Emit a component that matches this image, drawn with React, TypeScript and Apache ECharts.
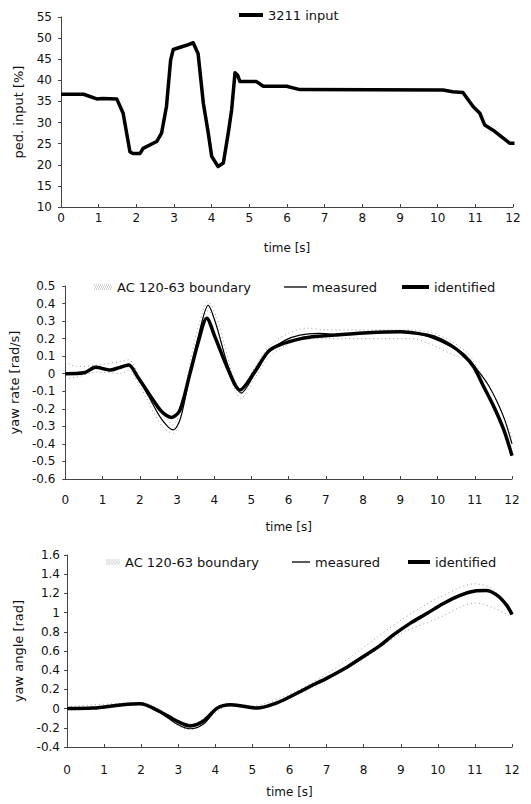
import React, { useEffect, useRef } from "react";
import * as echarts from "echarts";

// ---- Panel 1: pedal input ----
const pedT = [0, 0.6, 0.95, 1.1, 1.48, 1.65, 1.83, 1.9, 2.1, 2.18, 2.54, 2.67, 2.8, 2.91, 2.98, 3.33, 3.51, 3.64, 3.78, 3.91, 4.0, 4.17, 4.31, 4.44, 4.53, 4.62, 4.69, 4.75, 5.19, 5.37, 5.99, 6.34, 10.14, 10.4, 10.67, 10.94, 11.12, 11.25, 11.47, 11.74, 11.91, 12.04];
const pedV = [36.7, 36.7, 35.6, 35.7, 35.6, 32.2, 23.1, 22.7, 22.7, 23.9, 25.5, 27.5, 33.8, 44.8, 47.3, 48.3, 48.9, 46.3, 34.5, 27.5, 22.0, 19.6, 20.4, 27.5, 33.0, 41.8, 41.2, 39.7, 39.7, 38.6, 38.6, 37.8, 37.7, 37.3, 37.1, 33.8, 32.2, 29.4, 28.2, 26.3, 25.1, 25.1];

// ---- Panel 2: yaw rate ----
const rateIdT = [0, 0.5, 0.81, 1.21, 1.45, 1.7, 1.95, 2.24, 2.59, 2.86, 3.08, 3.35, 3.57, 3.8, 4.02, 4.38, 4.69, 5.09, 5.45, 5.76, 6.33, 6.78, 7.23, 8.12, 9.01, 9.46, 9.9, 10.35, 10.7, 10.97, 11.24, 11.51, 11.78, 12.0];
const rateId = [0, 0.005, 0.037, 0.021, 0.035, 0.05, -0.02, -0.112, -0.216, -0.249, -0.207, 0.002, 0.18, 0.316, 0.21, 0.021, -0.093, 0.012, 0.126, 0.164, 0.2, 0.214, 0.22, 0.233, 0.239, 0.23, 0.21, 0.163, 0.106, 0.04, -0.074, -0.187, -0.32, -0.467];
const rateMeasT = [0, 0.5, 0.81, 1.21, 1.45, 1.7, 1.95, 2.24, 2.59, 2.9, 3.1, 3.35, 3.57, 3.84, 4.05, 4.38, 4.73, 5.09, 5.45, 5.9, 6.3, 6.8, 7.3, 8.1, 9.0, 9.5, 9.9, 10.35, 10.75, 11.0, 11.35, 11.6, 11.8, 12.0];
const rateMeas = [0, 0.005, 0.037, 0.021, 0.035, 0.05, -0.02, -0.13, -0.26, -0.32, -0.25, 0.0, 0.21, 0.39, 0.28, 0.04, -0.11, 0.0, 0.12, 0.19, 0.22, 0.23, 0.225, 0.232, 0.238, 0.225, 0.2, 0.155, 0.1, 0.04, -0.06, -0.16, -0.26, -0.4];
const rateBndT = [0, 0.3, 0.85, 1.5, 1.7, 2.0, 2.6, 2.9, 3.1, 3.55, 3.84, 4.05, 4.73, 5.1, 5.5, 6.0, 6.5, 7.0, 7.5, 8.5, 9.3, 9.9, 10.4, 10.8, 11.0, 11.5, 12.0];
const rateUpper = [0.07, 0.04, 0.05, 0.07, 0.08, -0.02, -0.22, -0.29, -0.19, 0.25, 0.41, 0.33, -0.09, 0.04, 0.16, 0.23, 0.26, 0.25, 0.25, 0.25, 0.25, 0.23, 0.18, 0.12, 0.06, -0.12, -0.36];
const rateLower = [-0.03, -0.02, 0.01, 0.0, 0.02, -0.07, -0.3, -0.34, -0.25, 0.19, 0.36, 0.29, -0.14, -0.02, 0.1, 0.17, 0.2, 0.2, 0.2, 0.2, 0.2, 0.16, 0.11, 0.08, 0.02, -0.2, -0.44];

// ---- Panel 3: yaw angle ----
const angT = [0, 0.7, 1.5, 1.97, 2.5, 2.96, 3.32, 3.68, 4.05, 4.4, 4.75, 5.12, 5.66, 6.2, 6.6, 7.0, 7.5, 7.9, 8.4, 8.8, 9.25, 9.7, 10.15, 10.6, 11.0, 11.3, 11.6, 11.85, 12.0];
const angId = [0, 0.005, 0.04, 0.05, -0.03, -0.13, -0.18, -0.13, 0.005, 0.04, 0.025, 0.005, 0.06, 0.16, 0.24, 0.315, 0.42, 0.52, 0.645, 0.767, 0.888, 0.99, 1.095, 1.18, 1.225, 1.23, 1.18, 1.08, 0.98];
const angMeas = [0, 0.005, 0.04, 0.05, -0.04, -0.16, -0.21, -0.16, -0.005, 0.04, 0.025, 0.005, 0.06, 0.16, 0.24, 0.315, 0.42, 0.52, 0.645, 0.767, 0.888, 0.99, 1.095, 1.18, 1.225, 1.23, 1.18, 1.08, 0.98];
const angBndT = [0, 2, 3.32, 4.4, 5, 6, 7, 8, 9, 10, 11, 11.5, 12];
const angUpper = [0.02, 0.06, -0.16, 0.05, 0.03, 0.15, 0.36, 0.64, 0.92, 1.15, 1.3, 1.24, 1.0];
const angLower = [-0.02, 0.04, -0.22, 0.03, 0.0, 0.11, 0.3, 0.52, 0.78, 0.94, 1.1, 1.05, 0.95];

const xTicks = [0, 12, 1];
const NAME_PED = "3211 input";
const NAME_BND = "AC 120-63 boundary";
const NAME_MEAS = "measured";
const NAME_ID = "identified";

const zip = (t: number[], v: number[]) => t.map((x, i) => [x, v[i]]);

const FONT = "DejaVu Sans";
const axisCol = "#444";

// dotted legend swatch for the boundary
function dotsIcon(): string {
  let d = "";
  for (let r = 0; r < 3; r++) {
    for (let c = 0; c < 9; c++) {
      const x = c * 2 + (r % 2);
      const y = r * 2;
      d += `M${x},${y}h1v1h-1z`;
    }
  }
  return "path://" + d;
}

function xAxis(gridIndex: number, labelMargin: number, nameGap: number) {
  return {
    type: "value",
    gridIndex,
    min: xTicks[0],
    max: xTicks[1],
    interval: xTicks[2],
    name: "time [s]",
    nameLocation: "middle",
    nameGap,
    nameTextStyle: { fontFamily: FONT, fontSize: 12, color: "#111" },
    axisLine: { onZero: false, lineStyle: { color: axisCol, width: 1 } },
    axisTick: { show: true, inside: true, length: 3, lineStyle: { color: axisCol } },
    axisLabel: { fontFamily: FONT, fontSize: 12, color: "#111", margin: labelMargin },
    splitLine: { show: false },
  };
}

function yAxis(gridIndex: number, name: string, min: number, max: number, interval: number, nameGap: number, labelMargin: number) {
  return {
    type: "value",
    gridIndex,
    min,
    max,
    interval,
    name,
    nameLocation: "middle",
    nameRotate: 90,
    nameGap,
    nameTextStyle: { fontFamily: FONT, fontSize: 13, color: "#111" },
    axisLine: { show: true, lineStyle: { color: axisCol, width: 1 } },
    axisTick: { show: true, inside: false, length: 3, lineStyle: { color: axisCol } },
    axisLabel: { fontFamily: FONT, fontSize: 12, color: "#111", margin: labelMargin },
    splitLine: { show: false },
  };
}

function legend(name: string, left: number, centerY: number, itemWidth: number, itemHeight: number, icon: string, color: string) {
  return {
    data: [{ name, icon, itemStyle: { color, borderWidth: 0 } }],
    left,
    top: centerY - 8,
    padding: 0,
    itemWidth,
    itemHeight,
    symbolKeepAspect: false,
    selectedMode: false,
    textStyle: { fontFamily: FONT, fontSize: 13, color: "#111", lineHeight: 16 },
  };
}

function lineSeries(name: string, data: number[][], idx: number, width: number, opts: any = {}) {
  return {
    type: "line",
    name,
    xAxisIndex: idx,
    yAxisIndex: idx,
    data,
    symbol: "none",
    smooth: 0.3,
    lineStyle: { color: "#000", width },
    itemStyle: { color: "#000" },
    z: 3,
    ...opts,
  };
}

function bndSeries(data: number[][], idx: number) {
  return lineSeries(NAME_BND, data, idx, 1, {
    lineStyle: { color: "#9a9a9a", width: 1, type: [1, 3] },
    itemStyle: { color: "#9a9a9a" },
    z: 2,
  });
}

export default function App() {
  const ref = useRef<HTMLDivElement>(null);
  useEffect(() => {
    if (!ref.current) return;
    const chart = echarts.init(ref.current, null, { renderer: "svg" });
    const dots = dotsIcon();
    chart.setOption({
      animation: false,
      backgroundColor: "#fff",
      grid: [
        { left: 61, top: 17, width: 452, height: 190 },
        { left: 63, top: 286, width: 449, height: 193 },
        { left: 67, top: 555, width: 445, height: 192 },
      ],
      xAxis: [xAxis(0, 5, 35), xAxis(1, 15, 42), xAxis(2, 17, 39)],
      yAxis: [
        yAxis(0, "ped. input [%]", 10, 55, 5, 36, 9),
        yAxis(1, "yaw rate [rad/s]", -0.6, 0.5, 0.1, 41, 10),
        yAxis(2, "yaw angle [rad]", -0.4, 1.6, 0.2, 42, 7),
      ],
      legend: [
        legend(NAME_PED, 239, 15, 24, 4, "rect", "#000"),
        legend(NAME_BND, 94, 287, 18, 5, dots, "#aaa"),
        legend(NAME_MEAS, 284, 287, 23, 1.3, "rect", "#000"),
        legend(NAME_ID, 402, 287, 27, 4, "rect", "#000"),
        legend(NAME_BND, 106, 562, 14, 5, dots, "#aaa"),
        legend(NAME_MEAS, 292, 562, 18, 1.3, "rect", "#000"),
        legend(NAME_ID, 408, 562, 22, 4, "rect", "#000"),
      ],
      series: [
        lineSeries(NAME_PED, zip(pedT, pedV), 0, 3.5, { smooth: false, lineStyle: { color: "#000", width: 3.5, join: "round" } }),
        bndSeries(zip(rateBndT, rateUpper), 1),
        bndSeries(zip(rateBndT, rateLower), 1),
        lineSeries(NAME_MEAS, zip(rateMeasT, rateMeas), 1, 1.2),
        lineSeries(NAME_ID, zip(rateIdT, rateId), 1, 3.5),
        bndSeries(zip(angBndT, angUpper), 2),
        bndSeries(zip(angBndT, angLower), 2),
        lineSeries(NAME_MEAS, zip(angT, angMeas), 2, 1.2),
        lineSeries(NAME_ID, zip(angT, angId), 2, 3.5),
      ],
    });
    return () => chart.dispose();
  }, []);
  return (
    <div
      ref={ref}
      style={{ position: "absolute", left: 0, top: 0, width: 531, height: 804, background: "#fff" }}
    />
  );
}
